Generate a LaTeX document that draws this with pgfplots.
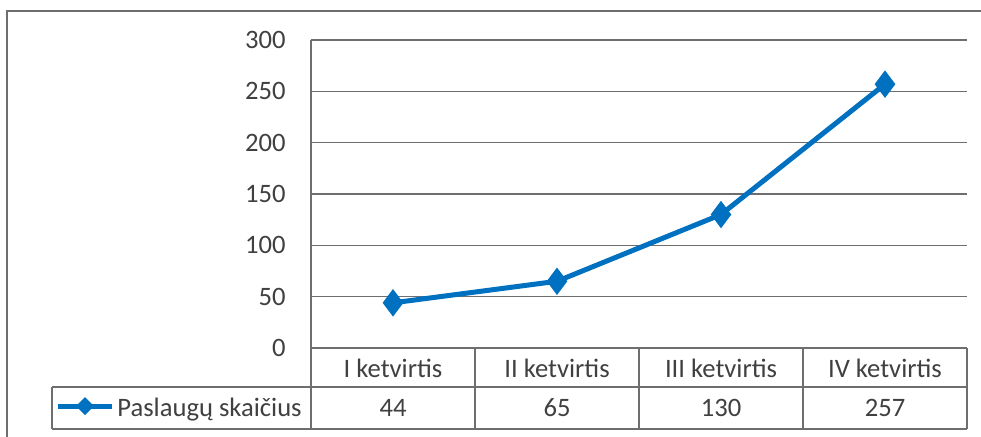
\documentclass[border=0pt]{standalone}
\usepackage{fontspec}
\setmainfont{Carlito}
\usepackage{pgfplots}
\pgfplotsset{compat=1.18}
\definecolor{lineblue}{RGB}{0,112,192}
\definecolor{txt}{RGB}{64,64,64}
\definecolor{gridc}{RGB}{110,110,110}
\begin{document}
\begin{tikzpicture}
\begin{scope}[x=0.5pt,y=-0.5pt]
\useasboundingbox (0,0) rectangle (981,436);
\draw[gridc, line width=0.8pt] (7,437) -- (7,11) -- (982,11);
\end{scope}
\begin{axis}[at={(155.5pt,-174pt)}, anchor=south west, scale only axis,
  width=328pt, height=154pt,
  xmin=-0.5, xmax=3.5, ymin=0, ymax=300,
  ytick={0,50,...,300}, xtick={0,1,2,3},
  xticklabels={I ketvirtis, II ketvirtis, III ketvirtis, IV ketvirtis},
  /pgf/number format/assume math mode=true,
  ymajorgrids, grid style={gridc, line width=0.7pt},
  axis line style={draw=none}, tick style={draw=none},
  tick label style={font=\fontsize{13.3}{15}\selectfont, text=txt},
  yticklabel style={anchor=east, inner sep=0pt, xshift=-12.5pt},
  xticklabel style={anchor=base, inner sep=0pt, yshift=-14.5pt},
  clip=false]
\addplot[lineblue, line width=2.5pt, mark=diamond*, mark size=4.8pt, mark options={solid}]
  coordinates {(0,44) (1,65) (2,130) (3,257)};
\end{axis}
\begin{scope}[x=0.5pt,y=-0.5pt]
\begin{scope}[gridc, line width=0.7pt]
\draw (311,40) -- (311,429);
\draw (311,348) -- (967,348);
\draw (52,387) -- (967,387);
\draw (52,429) -- (967,429);
\draw (52,387) -- (52,429);
\foreach \x in {475,639,803,967} \draw (\x,348) -- (\x,429);
\end{scope}
\draw[lineblue, line width=2.5pt] (58,406) -- (112,406);
\fill[lineblue] (85,397) -- (94,406) -- (85,415) -- (76,406) -- cycle;
\begin{scope}[font=\fontsize{13.3}{15}\selectfont, text=txt]
\node[anchor=base west, inner sep=0pt] at (117,416) {Paslaugų skaičius};
\node[anchor=base, inner sep=0pt] at (393,416) {44};
\node[anchor=base, inner sep=0pt] at (557,416) {65};
\node[anchor=base, inner sep=0pt] at (721,416) {130};
\node[anchor=base, inner sep=0pt] at (885,416) {257};
\end{scope}
\end{scope}
\end{tikzpicture}
\end{document}
